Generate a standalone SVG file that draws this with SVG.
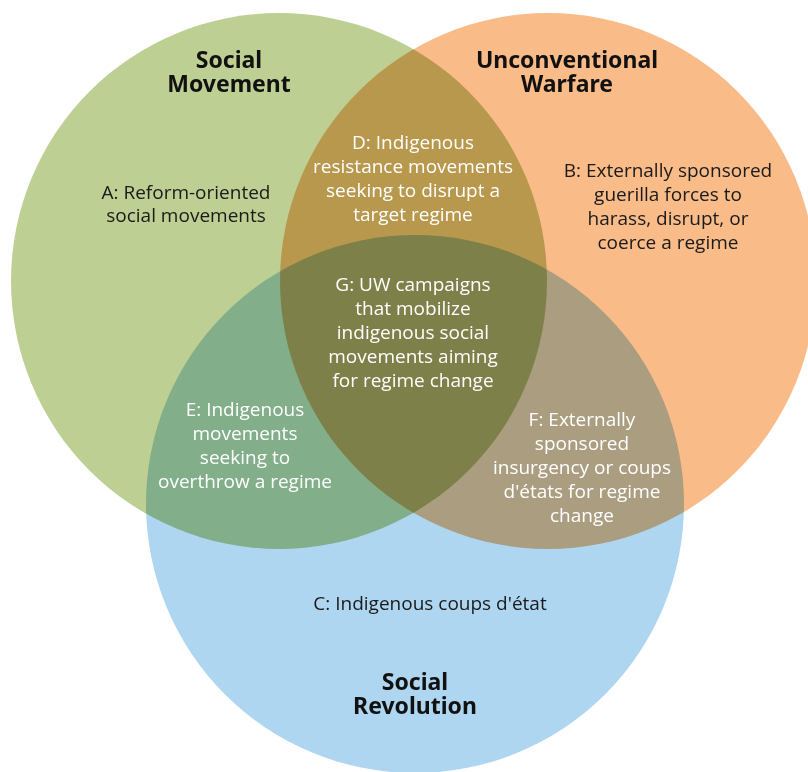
<svg xmlns="http://www.w3.org/2000/svg" width="808" height="772" viewBox="0 0 808 772">
<style>
.c{mix-blend-mode:multiply}
.t{font-family:"Open Sans","Liberation Sans",sans-serif;font-size:19px;text-anchor:middle}
.w{fill:#ffffff}
.k{fill:#1a1a1a}
.h{font-family:"Noto Sans","DejaVu Sans",sans-serif;font-weight:700;font-size:23px;text-anchor:middle;fill:#111}
</style>
<rect width="808" height="772" fill="#ffffff"/>
<g id="circles" style="isolation:isolate">
<circle id="social-movement" class="c" cx="279" cy="281" r="268" fill="#BDCF92"/>
<circle id="unconventional-warfare" class="c" cx="548" cy="281" r="268" fill="#F9BB87"/>
<circle id="social-revolution" class="c" cx="415" cy="504" r="269" fill="#AFD6F1"/>
</g>
<g id="titles">
<text class="h" x="229" y="68">Social<tspan x="229" dy="24">Movement</tspan></text>
<text class="h" x="567" y="68">Unconventional<tspan x="567" dy="24">Warfare</tspan></text>
<text class="h" x="415" y="690">Social<tspan x="415" dy="24">Revolution</tspan></text>
</g>
<g id="A"><text class="t k" x="186" y="199">A: Reform-oriented<tspan x="186" dy="23">social movements</tspan></text></g>
<g id="B"><text class="t k" x="668" y="177">B: Externally sponsored<tspan x="668" dy="24">guerilla forces to</tspan><tspan x="668" dy="24">harass, disrupt, or</tspan><tspan x="668" dy="24">coerce a regime</tspan></text></g>
<g id="C"><text class="t k" x="430" y="610">C: Indigenous coups d'état</text></g>
<g id="D"><text class="t w" x="413" y="149">D: Indigenous<tspan x="413" dy="24">resistance movements</tspan><tspan x="413" dy="24">seeking to disrupt a</tspan><tspan x="413" dy="24">target regime</tspan></text></g>
<g id="E"><text class="t w" x="245" y="416">E: Indigenous<tspan x="245" dy="24">movements</tspan><tspan x="245" dy="24">seeking to</tspan><tspan x="245" dy="24">overthrow a regime</tspan></text></g>
<g id="F"><text class="t w" x="582" y="426">F: Externally<tspan x="582" dy="24">sponsored</tspan><tspan x="582" dy="24">insurgency or coups</tspan><tspan x="582" dy="24">d'états for regime</tspan><tspan x="582" dy="24">change</tspan></text></g>
<g id="G"><text class="t w" x="413" y="291">G: UW campaigns<tspan x="413" dy="24">that mobilize</tspan><tspan x="413" dy="24">indigenous social</tspan><tspan x="413" dy="24">movements aiming</tspan><tspan x="413" dy="24">for regime change</tspan></text></g>
<g id="connectors"/>
</svg>
